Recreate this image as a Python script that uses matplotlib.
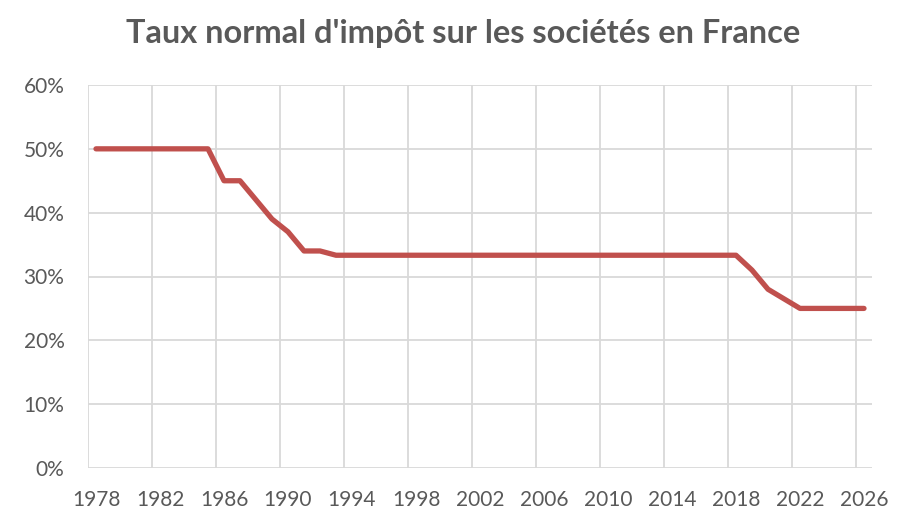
import matplotlib.pyplot as plt
from matplotlib.ticker import FixedLocator

# Données : taux normal de l'IS (%), 1978 à 2026
annees = list(range(1978, 2027))
taux = ([50] * 8                      # 1978-1985
        + [45, 45, 42, 39, 37, 34, 34]  # 1986-1992
        + [33.33] * 26                  # 1993-2018
        + [31, 28, 26.5]                # 2019-2021
        + [25] * 5)                     # 2022-2026

gris_texte = '#595959'
gris_grille = '#D9D9D9'
rouge = '#C0504D'

plt.rcParams['font.family'] = ['Lato', 'DejaVu Sans']

fig = plt.figure(figsize=(9.03, 5.32), dpi=100)
ax = fig.add_axes([88 / 903, 64 / 532, 784 / 903, 383 / 532])

x = list(range(len(annees)))
ax.plot(x, taux, color=rouge, linewidth=3.8, solid_capstyle='round', zorder=3)

ax.set_xlim(-0.5, len(annees) - 0.5)
ax.set_ylim(0, 60)

# axe des catégories : étiquettes tous les 4 ans, grille entre les catégories
ax.set_xticks(x[::4])
ax.set_xticklabels([str(a) for a in annees[::4]])
ax.xaxis.set_minor_locator(FixedLocator([i - 0.5 for i in range(0, len(annees), 4)]))
ax.set_yticks(range(0, 61, 10))
ax.set_yticklabels([f'{v}%' for v in range(0, 61, 10)])

ax.grid(False)
ax.grid(True, which='minor', axis='x', color=gris_grille, linewidth=1.3)
ax.grid(True, which='major', axis='y', color=gris_grille, linewidth=1.3)
ax.tick_params(which='both', length=0, colors=gris_texte, labelsize=15)
ax.tick_params(axis='x', pad=16)
ax.tick_params(axis='y', pad=17)
for s in ax.spines.values():
    s.set_visible(False)

fig.text(0.513, 0.937, "Taux normal d'impôt sur les sociétés en France",
         ha='center', va='center', fontsize=23.4, fontweight='bold', color=gris_texte)

fig.savefig('out.png', dpi=100)
